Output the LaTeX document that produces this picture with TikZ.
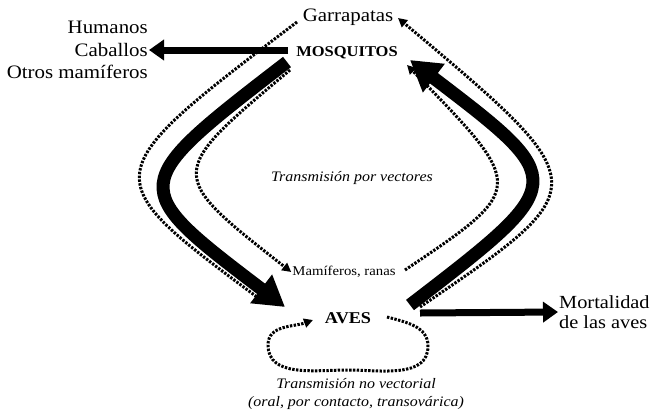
\documentclass[tikz,border=0pt]{standalone}
\usepackage{fontspec}
\setmainfont[FakeStretch=1.1]{Liberation Serif}
\usetikzlibrary{arrows.meta}
\tikzset{
  dotline/.style={line width=3pt, dash pattern=on 2.4pt off 1.4pt},
  dotarrow/.style={dotline, -{Triangle[length=9pt,width=9pt]}},
  bigarrow/.style={line width=13pt, -{Triangle[length=30pt,width=34pt]}},
  sidearrow/.style={line width=7pt, -{Triangle[length=15pt,width=20pt]}},
  lbl/.style={inner sep=1pt, font=\fontsize{19}{22.5}\selectfont},
}
\begin{document}
\begin{tikzpicture}[x=1pt,y=-1pt]
\useasboundingbox (0,0) rectangle (652,413);
% labels
\node[lbl, anchor=east, align=right] (hosts) at (149,50) {Humanos\\Caballos\\Otros mamíferos};
\node[lbl] (garr) at (348,17) {Garrapatas};
\node[inner sep=1pt, font=\fontsize{15}{16}\selectfont\bfseries] (mosq) at (347,53) {MOSQUITOS};
\node[inner sep=1pt, font=\fontsize{14.5}{16}\selectfont\itshape] (tpv) at (352,178) {Transmisión por vectores};
\node[inner sep=1pt, font=\fontsize{13.4}{14}\selectfont] (mam) at (344,272) {Mamíferos, ranas};
\node[inner sep=1pt, font=\fontsize{16.5}{17}\selectfont\bfseries] (aves) at (348,318) {AVES};
\node[inner sep=1pt, align=center, font=\fontsize{14.5}{18}\selectfont\itshape] (tnv) at (356,394) {Transmisión no vectorial\\(oral, por contacto, transovárica)};
\node[inner sep=1pt, anchor=west, align=left, font=\fontsize{18.5}{20.5}\selectfont] (mort) at (558,312) {Mortalidad\\de las aves};
% end points
\coordinate (bl1) at (287,62);
\coordinate (bl2) at (285,307);
\coordinate (br1) at (410,305);
\coordinate (br2) at (410,60);
\coordinate (ol1) at (297,22);
\coordinate (ol2) at (257,297);
\coordinate (or1) at (420,307);
\coordinate (or2) at (398,18);
\coordinate (il1) at (290,70);
\coordinate (ir1) at (405,270);
\coordinate (ir2) at (407,65);
\coordinate (al) at (387,317);
\coordinate (ar) at (313,320);
\coordinate (ms) at (288,50);
\coordinate (as) at (420,313);
% side arrows
\draw[sidearrow] (ms) -- (hosts.east);
\draw[sidearrow] (as) -- (mort.west);
% big arrows
\draw[bigarrow] (bl1) .. controls (126,186) .. (bl2);
\draw[bigarrow] (br1) .. controls (570,182) .. (br2);
% outer dotted
\draw[dotline] (ol1) .. controls (94,176) .. (ol2);
\draw[dotarrow] (or1) .. controls (598,186) .. (or2);
% inner dotted
\draw[dotarrow] (il1) .. controls (166,174) .. (mam.west);
\draw[dotarrow] (ir1) .. controls (527,188) .. (ir2);
% aves loop
\draw[dotarrow] (al) to[out=-15,in=90] (428,346) to[out=-90,in=0] (348,370) to[out=180,in=-90] (268,345) to[out=90,in=200] (ar);
\end{tikzpicture}
\end{document}
